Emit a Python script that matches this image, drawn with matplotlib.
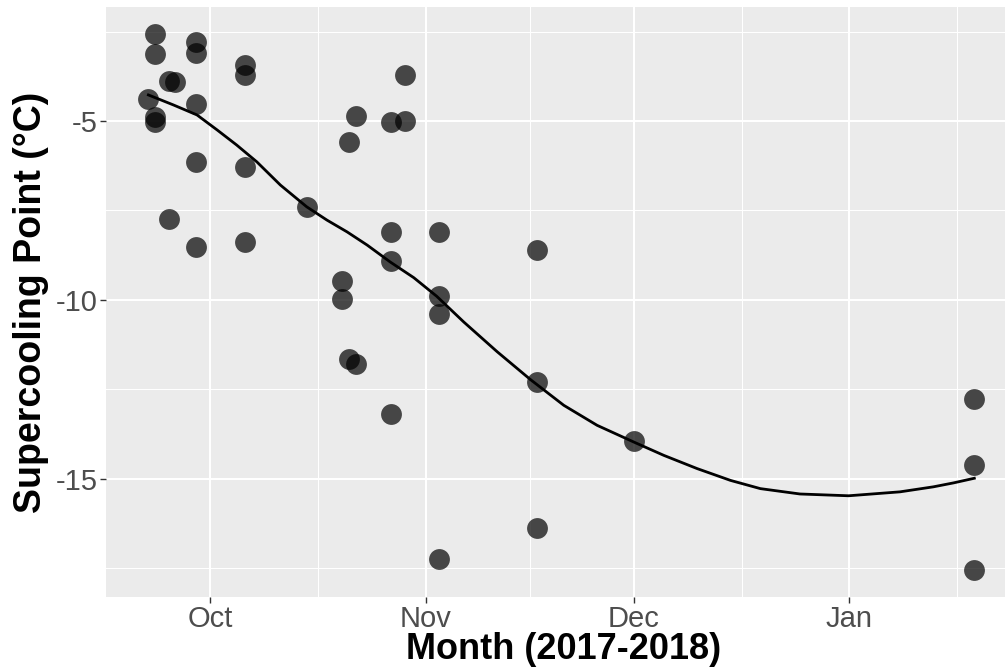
import numpy as np
import pandas as pd
import matplotlib
matplotlib.use("Agg")
import matplotlib.pyplot as plt

# ---- data ----
dates = ["2017-09-22",
         "2017-09-23", "2017-09-23", "2017-09-23", "2017-09-23",
         "2017-09-25", "2017-09-25",
         "2017-09-26",
         "2017-09-29", "2017-09-29", "2017-09-29", "2017-09-29", "2017-09-29",
         "2017-10-06", "2017-10-06", "2017-10-06", "2017-10-06",
         "2017-10-15",
         "2017-10-20", "2017-10-20",
         "2017-10-21", "2017-10-21",
         "2017-10-22", "2017-10-22",
         "2017-10-27", "2017-10-27", "2017-10-27", "2017-10-27",
         "2017-10-29", "2017-10-29",
         "2017-11-03", "2017-11-03", "2017-11-03", "2017-11-03",
         "2017-11-17", "2017-11-17", "2017-11-17",
         "2017-12-01",
         "2018-01-19", "2018-01-19", "2018-01-19"]
scp = [-4.38,
       -2.56, -3.13, -4.89, -5.03,
       -3.88, -7.74,
       -3.90,
       -2.80, -3.11, -4.52, -6.14, -8.52,
       -3.43, -3.71, -6.28, -8.38,
       -7.41,
       -9.47, -9.97,
       -5.58, -11.66,
       -4.86, -11.80,
       -5.04, -8.11, -8.91, -13.20,
       -3.71, -4.99,
       -8.10, -9.89, -10.41, -17.25,
       -8.61, -12.31, -16.39,
       -13.94,
       -12.78, -14.62, -17.56]

# smooth trend line (days since 1 Oct 2017, value)
curve_day = [-8.9, -5.3, -1.9, 1.0, 3.8, 6.7, 10.1, 13.9, 16.8, 19.7, 22.6,
             25.9, 29.3, 32.6, 36.5, 41.3, 46.1, 50.9, 55.7, 60.9, 65.3,
             70.1, 74.9, 79.2, 84.9, 91.9, 99.3, 104.1, 107.0, 110.0]
curve_val = [-4.27, -4.55, -4.83, -5.25, -5.67, -6.14, -6.79, -7.40, -7.77, -8.10, -8.47,
             -8.94, -9.38, -9.90, -10.62, -11.45, -12.23, -12.95, -13.51, -13.97, -14.35,
             -14.72, -15.05, -15.28, -15.43, -15.48, -15.37, -15.23, -15.12, -14.99]

month_ticks = ["2017-10-01", "2017-11-01", "2017-12-01", "2018-01-01", "2018-02-01"]
month_labels = ["Oct", "Nov", "Dec", "Jan"]
y_ticks = [-5, -10, -15]

# ---- style ----
plt.rcParams['font.family'] = ['Liberation Sans', 'DejaVu Sans']
grey_text = "#4D4D4D"

x = pd.to_datetime(dates)
base = pd.Timestamp("2017-10-01")
curve_x = [base + pd.Timedelta(days=d) for d in curve_day]
months = pd.to_datetime(month_ticks)
majors = months[:-1]
minors = months[:-1] + (months[1:] - months[:-1]) / 2

fig = plt.figure(figsize=(10.05, 6.70), dpi=100)
ax = fig.add_axes([0.1055, 0.109, 0.8945, 0.8806])
ax.set_facecolor("#EBEBEB")

ax.scatter(x, scp, s=225, color="black", alpha=0.7, linewidths=0, zorder=3)
ax.plot(curve_x, curve_val, color="black", linewidth=2.0, zorder=4,
        solid_joinstyle="round")

ax.set_xticks(majors)
ax.set_xticklabels(month_labels)
ax.set_xticks(minors, minor=True)
ax.set_yticks(y_ticks)
ax.set_yticklabels([str(v) for v in y_ticks])
ax.set_yticks([-2.5, -7.5, -12.5, -17.5], minor=True)

ax.set_xlim(pd.Timestamp("2017-09-16"), pd.Timestamp("2018-01-23 10:00"))
ax.set_ylim(-18.31, -1.81)

ax.grid(which="major", color="white", linewidth=1.5)
ax.grid(which="minor", color="white", linewidth=0.75)
ax.set_axisbelow(True)
for s in ax.spines.values():
    s.set_visible(False)

ax.tick_params(which="major", length=4, width=1, color="#333333",
               labelsize=21, labelcolor=grey_text, pad=2)
ax.tick_params(which="minor", length=0)

ax.set_xlabel("Month (2017-2018)", fontsize=26, fontweight="bold", labelpad=-1)
ax.xaxis.label.set_x(0.509)
ax.set_ylabel("Supercooling Point (°C)", fontsize=27, fontweight="bold", labelpad=5)

fig.savefig("out.png", dpi=100)
